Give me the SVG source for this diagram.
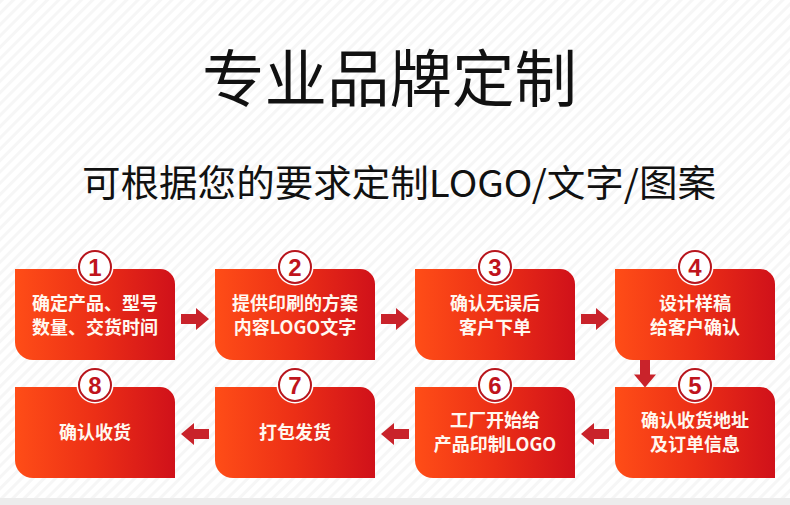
<svg xmlns="http://www.w3.org/2000/svg" width="790" height="505" viewBox="0 0 790 505">
<defs>
<pattern id="stripes" width="8" height="8" patternUnits="userSpaceOnUse" patternTransform="rotate(45)">
<rect width="8" height="8" fill="#ffffff"/>
<rect width="3" height="8" fill="#f6f6f6"/>
</pattern>
<linearGradient id="boxg" x1="0" y1="0" x2="1" y2="0">
<stop offset="0" stop-color="#ff4d17"/>
<stop offset="0.5" stop-color="#ec2f16"/>
<stop offset="1" stop-color="#d0111a"/>
</linearGradient>
<path id="box" d="M0,0 H145 A15,15 0 0 1 160,15 V91 H18 A18,18 0 0 1 0,73 Z"/>
<path id="arr" d="M-14,-5 H1 V-11 L14,0 L1,11 V5 H-14 Z"/>
<g id="badge">
<circle r="18.5" fill="#ffffff"/>
<circle r="16" fill="#ffffff" stroke="#b8161d" stroke-width="2"/>
</g>
</defs>
<style>
.bx{fill:url(#boxg);}
.t{font-family:"Noto Sans CJK SC","Noto Sans",sans-serif;font-weight:700;font-size:18px;fill:#fff8f0;text-anchor:middle;}
.n{font-family:"Liberation Sans","Noto Sans",sans-serif;font-weight:700;font-size:24px;fill:#c0141c;text-anchor:middle;}
.a{fill:#c9232b;}
</style>
<rect width="790" height="505" fill="url(#stripes)"/>
<rect x="0" y="498" width="790" height="7" fill="#ececec"/>
<text x="389.5" y="102" font-family="'Noto Sans CJK SC',sans-serif" font-size="62" fill="#111111" text-anchor="middle" textLength="375" lengthAdjust="spacingAndGlyphs">专业品牌定制</text>
<text x="82" y="197" font-family="'Noto Sans CJK SC',sans-serif" font-size="37" fill="#111111" textLength="634" lengthAdjust="spacingAndGlyphs">可根据您的要求定制LOGO/文字/图案</text>
<g id="connectors">
<use href="#arr" class="a" transform="translate(195,319)"/>
<use href="#arr" class="a" transform="translate(395,319)"/>
<use href="#arr" class="a" transform="translate(595,319)"/>
<use href="#arr" class="a" transform="translate(645,373.5) rotate(90)"/>
<use href="#arr" class="a" transform="translate(595,434) rotate(180)"/>
<use href="#arr" class="a" transform="translate(395,434) rotate(180)"/>
<use href="#arr" class="a" transform="translate(195,434) rotate(180)"/>
</g>
<g id="node1">
<use href="#box" class="bx" transform="translate(15,269)"/>
<use href="#badge" transform="translate(95,267)"/>
<text class="n" x="95" y="275.5">1</text>
<text class="t" x="95" y="309.5">确定产品、型号</text>
<text class="t" x="95" y="333.5">数量、交货时间</text>
</g>
<g id="node2">
<use href="#box" class="bx" transform="translate(215,269)"/>
<use href="#badge" transform="translate(295,267)"/>
<text class="n" x="295" y="275.5">2</text>
<text class="t" x="295" y="309.5">提供印刷的方案</text>
<text class="t" x="295" y="333.5">内容LOGO文字</text>
</g>
<g id="node3">
<use href="#box" class="bx" transform="translate(415,269)"/>
<use href="#badge" transform="translate(495,267)"/>
<text class="n" x="495" y="275.5">3</text>
<text class="t" x="495" y="309.5">确认无误后</text>
<text class="t" x="495" y="333.5">客户下单</text>
</g>
<g id="node4">
<use href="#box" class="bx" transform="translate(615,269)"/>
<use href="#badge" transform="translate(695,267)"/>
<text class="n" x="695" y="275.5">4</text>
<text class="t" x="695" y="309.5">设计样稿</text>
<text class="t" x="695" y="333.5">给客户确认</text>
</g>
<g id="node5">
<use href="#box" class="bx" transform="translate(615,387)"/>
<use href="#badge" transform="translate(695,385)"/>
<text class="n" x="695" y="393.5">5</text>
<text class="t" x="695" y="426.5">确认收货地址</text>
<text class="t" x="695" y="451">及订单信息</text>
</g>
<g id="node6">
<use href="#box" class="bx" transform="translate(415,387)"/>
<use href="#badge" transform="translate(495,385)"/>
<text class="n" x="495" y="393.5">6</text>
<text class="t" x="495" y="426.5">工厂开始给</text>
<text class="t" x="495" y="451">产品印制LOGO</text>
</g>
<g id="node7">
<use href="#box" class="bx" transform="translate(215,387)"/>
<use href="#badge" transform="translate(295,385)"/>
<text class="n" x="295" y="393.5">7</text>
<text class="t" x="295" y="438.5">打包发货</text>
</g>
<g id="node8">
<use href="#box" class="bx" transform="translate(15,387)"/>
<use href="#badge" transform="translate(95,385)"/>
<text class="n" x="95" y="393.5">8</text>
<text class="t" x="95" y="438.5">确认收货</text>
</g>
</svg>
